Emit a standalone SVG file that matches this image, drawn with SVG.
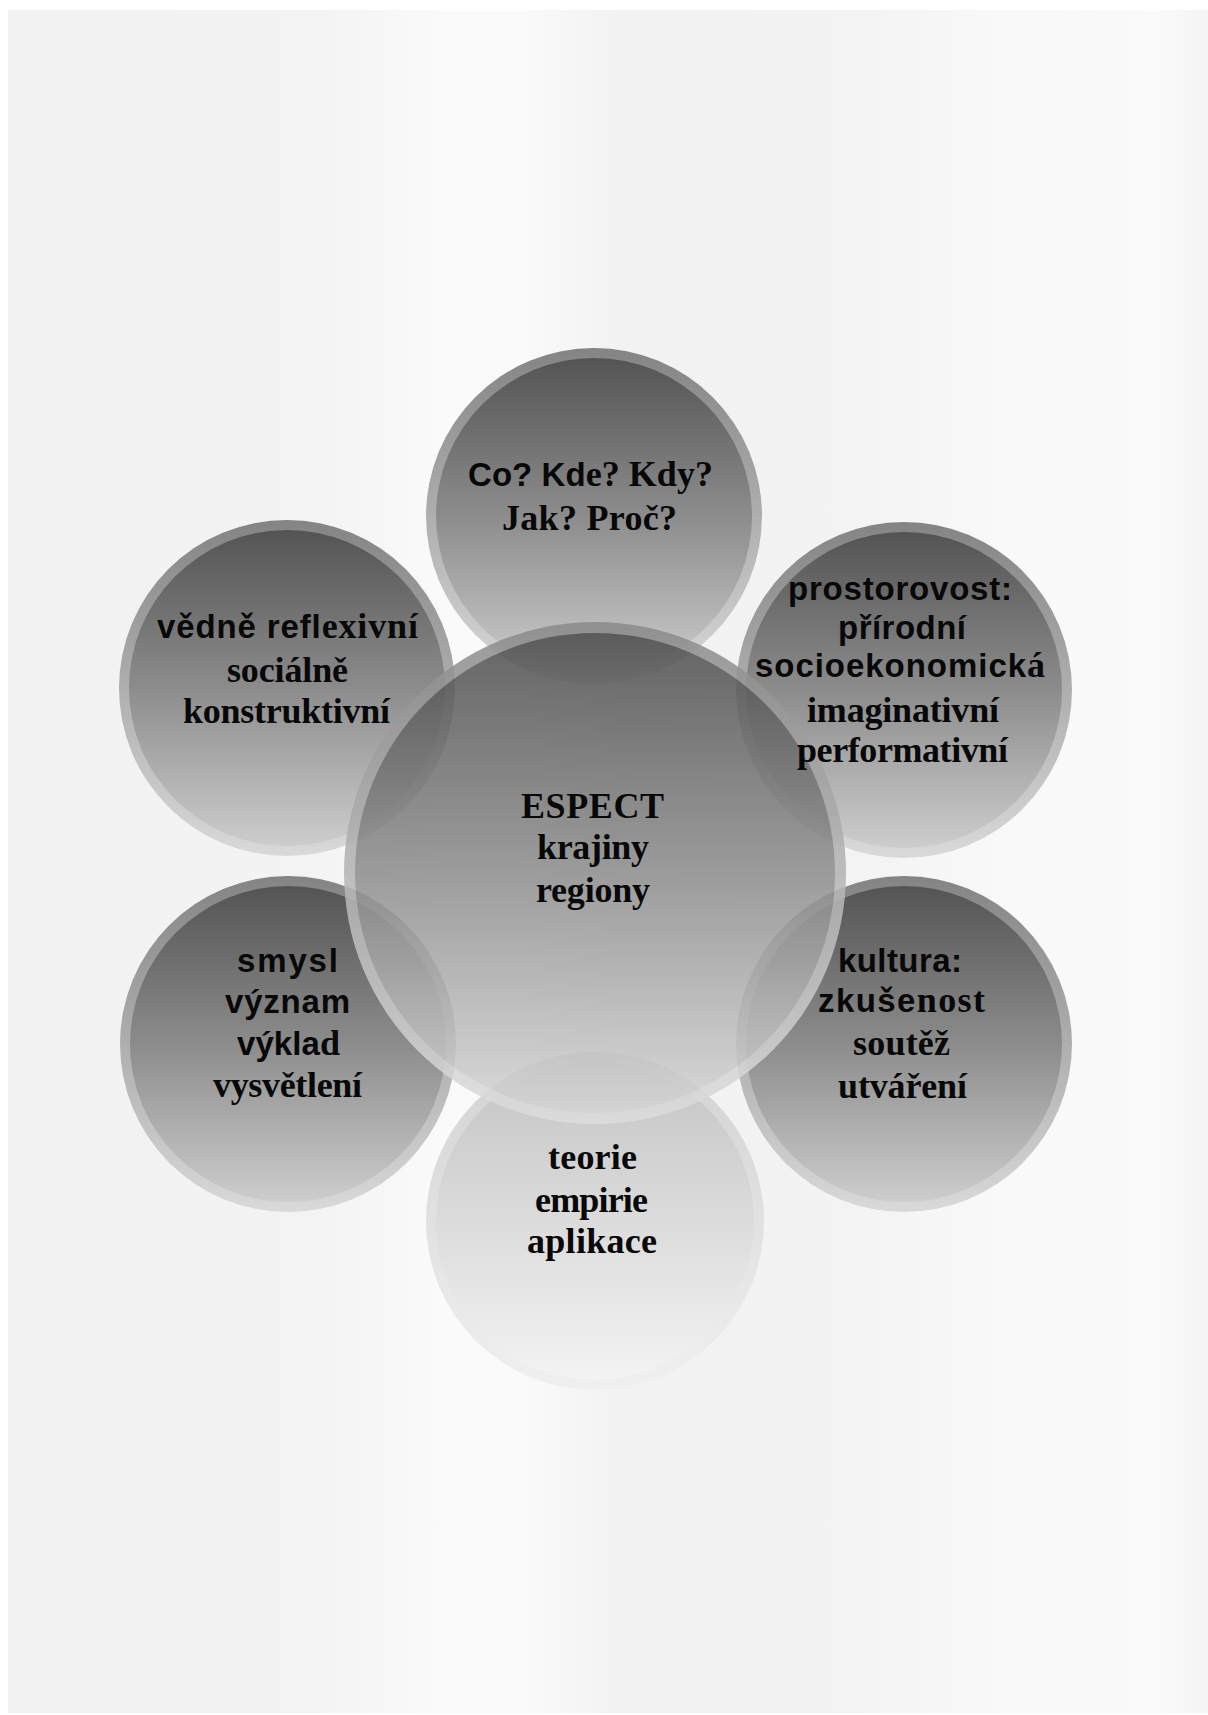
<svg xmlns="http://www.w3.org/2000/svg" width="1208" height="1715" viewBox="0 0 1208 1715">
<defs>
<linearGradient id="bg" x1="0" y1="0" x2="1" y2="0">
<stop offset="0" stop-color="#f2f2f2"/>
<stop offset="0.25" stop-color="#f3f3f3"/>
<stop offset="0.36" stop-color="#fafafa"/>
<stop offset="0.43" stop-color="#fafafa"/>
<stop offset="0.51" stop-color="#f2f2f2"/>
<stop offset="0.70" stop-color="#f3f3f3"/>
<stop offset="0.83" stop-color="#f9f9f9"/>
<stop offset="0.96" stop-color="#fafafa"/>
<stop offset="1" stop-color="#f4f4f4"/>
</linearGradient>
<linearGradient id="ring" x1="0" y1="0" x2="0" y2="1">
<stop offset="0" stop-color="#848484"/>
<stop offset="1" stop-color="#d9d9d9"/>
</linearGradient>
<linearGradient id="fill" x1="0" y1="0" x2="0" y2="1">
<stop offset="0" stop-color="#545454"/>
<stop offset="0.5" stop-color="#8c8c8c"/>
<stop offset="1" stop-color="#cdcdcd"/>
</linearGradient>
<linearGradient id="ringB" x1="0" y1="0" x2="0" y2="1">
<stop offset="0" stop-color="#d2d2d2"/>
<stop offset="1" stop-color="#f0f0f0"/>
</linearGradient>
<linearGradient id="fillB" x1="0" y1="0" x2="0" y2="1">
<stop offset="0" stop-color="#c4c4c4"/>
<stop offset="1" stop-color="#f3f3f3"/>
</linearGradient>
<linearGradient id="ringC" x1="0" y1="0" x2="0" y2="1">
<stop offset="0" stop-color="#8a8a8a"/>
<stop offset="1" stop-color="#dedede"/>
</linearGradient>
<linearGradient id="fillC" x1="0" y1="0" x2="0" y2="1">
<stop offset="0" stop-color="#4c4c4c"/>
<stop offset="0.5" stop-color="#8d8d8d"/>
<stop offset="1" stop-color="#d6d6d6"/>
</linearGradient>
</defs>
<style>
.a{font-family:"Liberation Sans",Arial,sans-serif;font-weight:bold;font-size:33px}
.s{font-family:"Liberation Serif","Times New Roman",serif;font-weight:bold;font-size:36px}
text{fill:#080808}
</style>
<rect x="0" y="0" width="1208" height="1715" fill="#ffffff"/>
<rect x="8" y="10" width="1200" height="1703" fill="url(#bg)"/>

<g id="node-top">
<circle cx="594" cy="516" r="168" fill="url(#ring)"/>
<circle cx="594" cy="516" r="158" fill="url(#fill)"/>
</g>
<g id="node-topleft">
<circle cx="287" cy="688" r="168" fill="url(#ring)"/>
<circle cx="287" cy="688" r="158" fill="url(#fill)"/>
</g>
<g id="node-topright">
<circle cx="904" cy="690" r="168" fill="url(#ring)"/>
<circle cx="904" cy="690" r="158" fill="url(#fill)"/>
</g>
<g id="node-bottomleft">
<circle cx="288" cy="1044" r="168" fill="url(#ring)"/>
<circle cx="288" cy="1044" r="158" fill="url(#fill)"/>
</g>
<g id="node-bottomright">
<circle cx="904" cy="1044" r="168" fill="url(#ring)"/>
<circle cx="904" cy="1044" r="158" fill="url(#fill)"/>
</g>
<g id="node-bottom">
<circle cx="595" cy="1221" r="169" fill="url(#ringB)"/>
<circle cx="595" cy="1221" r="159" fill="url(#fillB)"/>
</g>
<g id="node-center" opacity="0.86">
<circle cx="595" cy="873" r="251" fill="url(#ringC)"/>
<circle cx="595" cy="873" r="240" fill="url(#fillC)"/>
</g>

<g id="connectors"/>

<g id="labels">
<g id="label-top">
<text x="468" y="486" textLength="245" lengthAdjust="spacing"><tspan class="a">Co? Kd</tspan><tspan class="s">e? Kdy?</tspan></text>
<text class="s" x="502" y="530" textLength="175" lengthAdjust="spacing">Jak? Proč?</text>
</g>
<g id="label-topleft">
<text x="157" y="638" textLength="261" lengthAdjust="spacing"><tspan class="a">vědně refl</tspan><tspan class="s">exivní</tspan></text>
<text class="s" x="227" y="682" textLength="121" lengthAdjust="spacing">sociálně</text>
<text class="s" x="183" y="723" textLength="207" lengthAdjust="spacing">konstruktivní</text>
</g>
<g id="label-topright">
<text class="a" x="788" y="600" textLength="224" lengthAdjust="spacing">prostorovost:</text>
<text class="a" x="838" y="639" textLength="128" lengthAdjust="spacing">přírodní</text>
<text x="755" y="677" textLength="290" lengthAdjust="spacing"><tspan class="a">socioekonomick</tspan><tspan class="s">á</tspan></text>
<text class="s" x="807" y="722" textLength="192" lengthAdjust="spacing">imaginativní</text>
<text class="s" x="797" y="762" textLength="211" lengthAdjust="spacing">performativní</text>
</g>
<g id="label-center">
<text class="s" x="521" y="818" textLength="143" lengthAdjust="spacing">ESPECT</text>
<text class="s" x="537" y="859" textLength="112" lengthAdjust="spacing">krajiny</text>
<text class="s" x="536" y="902" textLength="114" lengthAdjust="spacing">regiony</text>
</g>
<g id="label-bottomleft">
<text class="a" x="237" y="972" textLength="101" lengthAdjust="spacing">smysl</text>
<text class="a" x="225" y="1013" textLength="125" lengthAdjust="spacing">význam</text>
<text x="237" y="1055" textLength="103" lengthAdjust="spacing"><tspan class="a">výkla</tspan><tspan class="s">d</tspan></text>
<text class="s" x="213" y="1097" textLength="149" lengthAdjust="spacing">vysvětlení</text>
</g>
<g id="label-bottomright">
<text class="a" x="838" y="972" textLength="124" lengthAdjust="spacing">kultura:</text>
<text x="818" y="1012" textLength="167" lengthAdjust="spacing"><tspan class="a">zkuše</tspan><tspan class="s">nost</tspan></text>
<text class="s" x="853" y="1055" textLength="97" lengthAdjust="spacing">soutěž</text>
<text class="s" x="838" y="1098" textLength="129" lengthAdjust="spacing">utváření</text>
</g>
<g id="label-bottom">
<text class="s" x="548" y="1169" textLength="89" lengthAdjust="spacing">teorie</text>
<text class="s" x="535" y="1212" textLength="113" lengthAdjust="spacing">empirie</text>
<text class="s" x="527" y="1253" textLength="130" lengthAdjust="spacing">aplikace</text>
</g>
</g>
</svg>
